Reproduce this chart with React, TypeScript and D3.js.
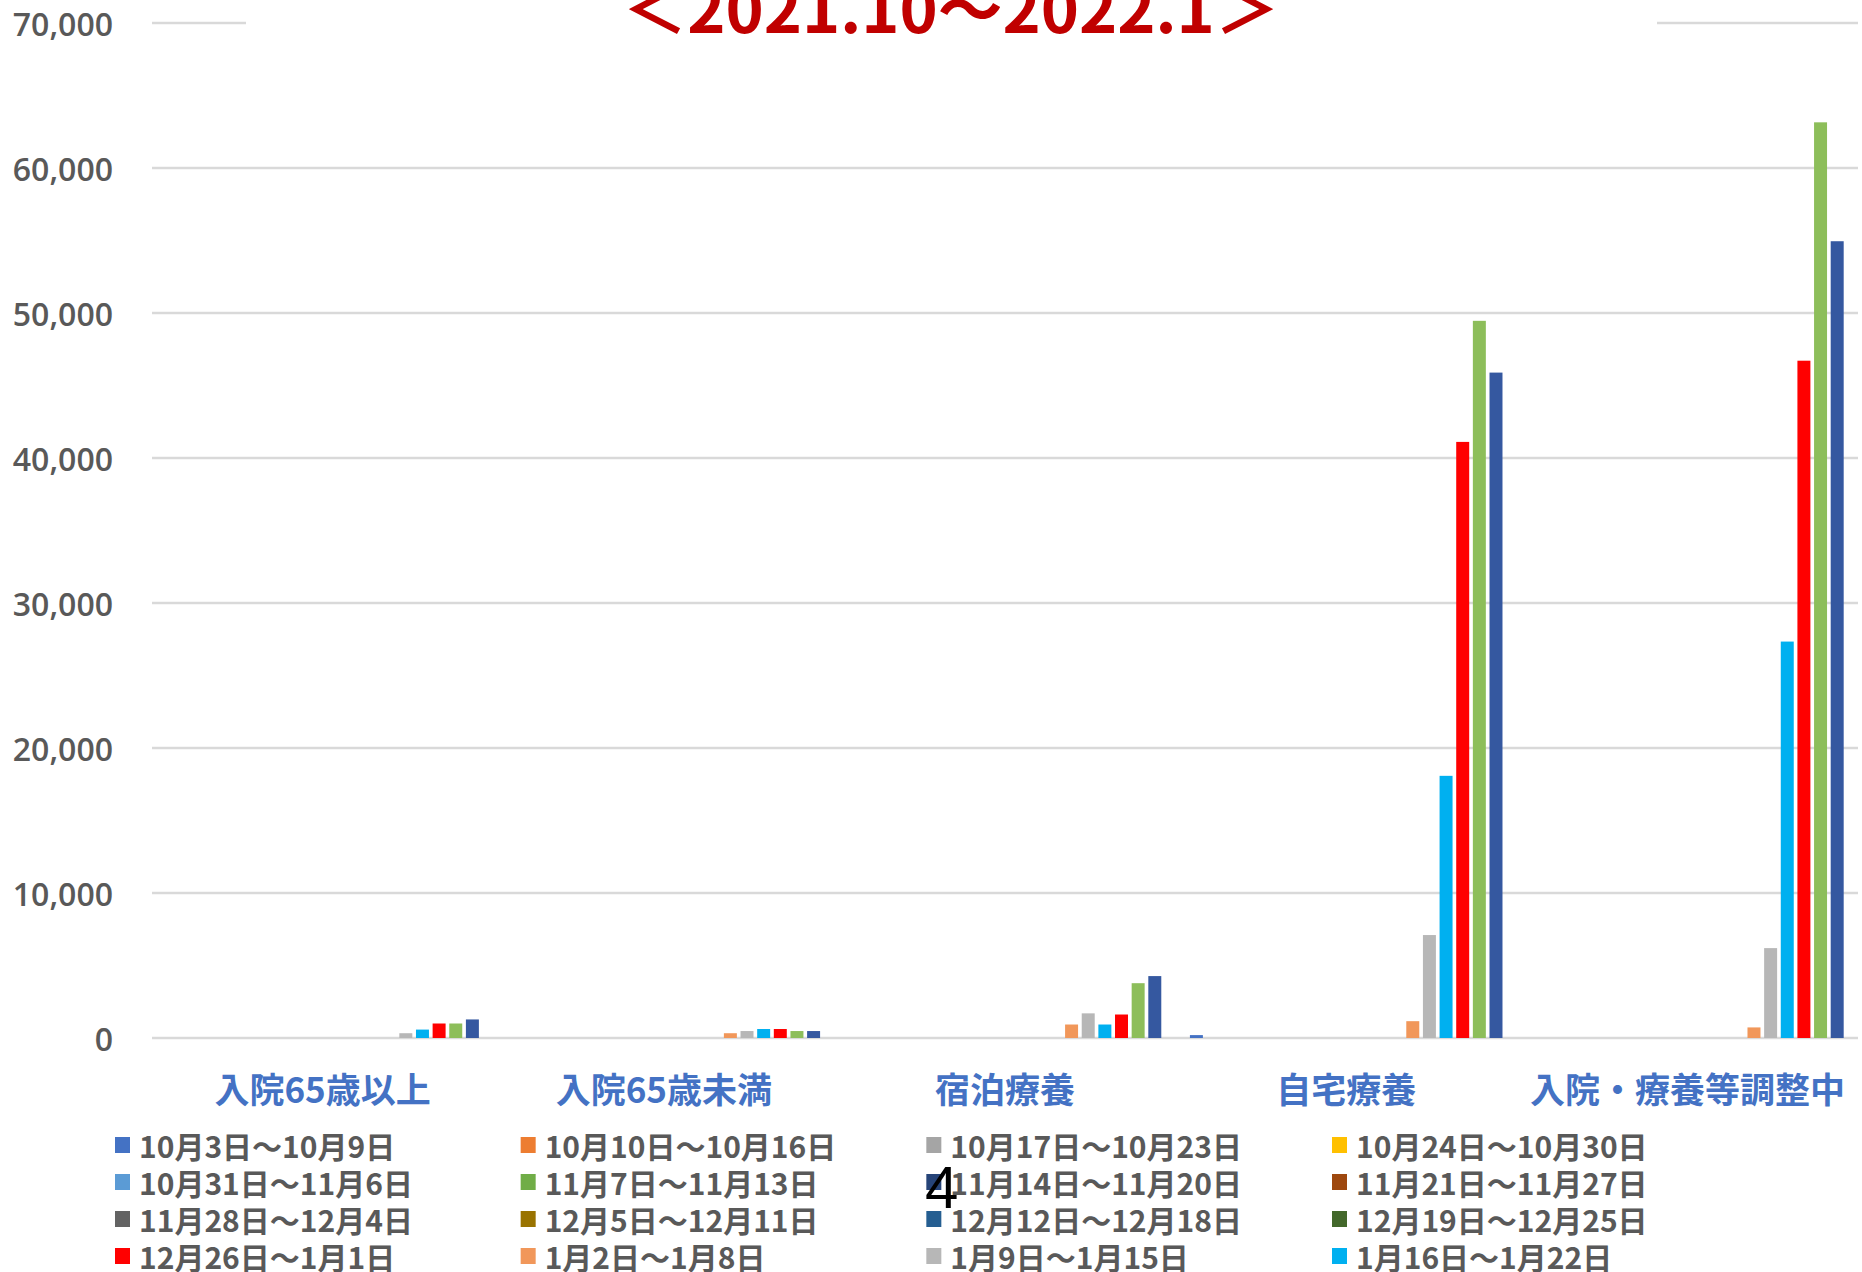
import React from "react";
import * as d3 from "d3";

// ---- Data ----
const categories = ["入院65歳以上", "入院65歳未満", "宿泊療養", "自宅療養", "入院・療養等調整中"];

const weeks = [
  "10月3日〜10月9日",
  "10月10日〜10月16日",
  "10月17日〜10月23日",
  "10月24日〜10月30日",
  "10月31日〜11月6日",
  "11月7日〜11月13日",
  "11月14日〜11月20日",
  "11月21日〜11月27日",
  "11月28日〜12月4日",
  "12月5日〜12月11日",
  "12月12日〜12月18日",
  "12月19日〜12月25日",
  "12月26日〜1月1日",
  "1月2日〜1月8日",
  "1月9日〜1月15日",
  "1月16日〜1月22日",
  "1月23日〜1月29日",
  "1月30日〜2月5日",
  "2月6日〜2月12日",
];

const weekColors = [
  "#4472C4", "#ED7D31", "#A5A5A5", "#FFC000",
  "#5B9BD5", "#70AD47", "#264478", "#9E480E",
  "#636363", "#997300", "#255E91", "#43682B",
  "#FF0000", "#F1975A", "#B7B7B7", "#00B0F0",
  "#FF0000", "#8DBE5A", "#3558A0",
];

// values per category, one entry per week (same order as weeks)
const hospOver65 = [0, 0, 0, 0, 0, 0, 0, 0, 0, 0, 0, 0, 0, 0, 330, 580, 1000, 1000, 1280];
const hospUnder65 = [0, 0, 0, 0, 0, 0, 0, 0, 0, 0, 0, 0, 0, 330, 480, 620, 620, 480, 480];
const hotelCare = [0, 0, 0, 0, 0, 0, 0, 0, 0, 0, 0, 0, 0, 930, 1700, 930, 1620, 3780, 4270];
const homeCare = [200, 0, 0, 0, 0, 0, 0, 0, 0, 0, 0, 0, 0, 1160, 7100, 18080, 41110, 49460, 45890];
const adjusting = [0, 0, 0, 0, 0, 0, 0, 0, 0, 0, 0, 0, 0, 730, 6200, 27340, 46710, 63150, 54950];

const yTicks = [0, 10000, 20000, 30000, 40000, 50000, 60000, 70000];
const titleText = "＜2021.10〜2022.1＞";
const pageNumber = "4";

const valuesByCategory = [hospOver65, hospUnder65, hotelCare, homeCare, adjusting];

export default function App() {
  const W = 1862;
  const H = 1272;
  const plotLeft = 152;
  const plotRight = 1858;

  const x0 = d3.scaleBand<string>().domain(categories).range([plotLeft, plotRight]).paddingInner(0).paddingOuter(0);
  const x1 = d3
    .scaleBand<string>()
    .domain(weeks)
    .range([0, x0.bandwidth()])
    .paddingInner(0.22)
    .paddingOuter(0.86);
  const y = d3.scaleLinear().domain([0, 70000]).range([1038, 23]);
  const fmt = d3.format(",");

  const legendCols = 4;
  const legendRows = 4;
  const colX = d3.scaleLinear().domain([0, legendCols - 1]).range([115, 1332]);
  const rowY = d3.scaleLinear().domain([0, legendRows - 1]).range([1145, 1256]);

  const jp = "'Noto Sans CJK JP', 'Noto Sans', sans-serif";

  return (
    <svg
      width={W}
      height={H}
      viewBox={`0 0 ${W} ${H}`}
      style={{ position: "absolute", left: 0, top: 0, background: "#fff" }}
    >
      <rect x={0} y={0} width={W} height={H} fill="#fff" />

      {/* gridlines */}
      {yTicks.map((t) => (
        <line
          key={"g" + t}
          x1={plotLeft}
          x2={plotRight}
          y1={y(t)}
          y2={y(t)}
          stroke="#D9D9D9"
          strokeWidth={2.5}
        />
      ))}

      {/* y tick labels */}
      {yTicks.map((t) => (
        <text
          key={"t" + t}
          x={113}
          y={y(t)}
          textAnchor="end"
          dominantBaseline="central"
          fontFamily="'Open Sans', 'Noto Sans', sans-serif"
          fontWeight={600}
          fontSize={32}
          fill="#595959"
        >
          {fmt(t)}
        </text>
      ))}

      {/* bars */}
      {categories.map((cat, ci) => (
        <g key={cat} transform={`translate(${x0(cat)},0)`}>
          {weeks.map((wk, wi) => {
            const v = valuesByCategory[ci][wi];
            if (!v) return null;
            return (
              <rect
                key={wk}
                x={x1(wk)}
                y={y(v)}
                width={x1.bandwidth()}
                height={y(0) - y(v)}
                fill={weekColors[wi]}
              />
            );
          })}
        </g>
      ))}

      {/* category labels */}
      {categories.map((cat) => (
        <text
          key={"c" + cat}
          x={(x0(cat) as number) + x0.bandwidth() / 2}
          y={1087}
          textAnchor="middle"
          dominantBaseline="central"
          fontFamily={jp}
          fontWeight={700}
          fontSize={35}
          fill="#4472C4"
        >
          {cat}
        </text>
      ))}

      {/* title with white backing */}
      <rect x={246} y={0} width={1411} height={42} fill="#fff" />
      <text
        x={951}
        y={33}
        textAnchor="middle"
        fontFamily={jp}
        fontWeight={700}
        fontSize={64}
        fill="#C00000"
        textLength={657}
        lengthAdjust="spacingAndGlyphs"
      >
        {titleText}
      </text>

      {/* legend */}
      {weeks.map((wk, i) => {
        const r = Math.floor(i / legendCols);
        const c = i % legendCols;
        if (r >= legendRows) return null;
        const cx = colX(c);
        const cy = rowY(r);
        return (
          <g key={"l" + wk}>
            <rect x={cx} y={cy - 8} width={15} height={16} fill={weekColors[i]} />
            <text
              x={cx + 24}
              y={cy}
              dominantBaseline="central"
              fontFamily={jp}
              fontWeight={700}
              fontSize={30}
              fill="#595959"
            >
              {wk}
            </text>
          </g>
        );
      })}

      {/* page number */}
      <text x={925} y={1208} fontFamily="'Liberation Sans', Arial, sans-serif" fontSize={60} fill="#000">
        {pageNumber}
      </text>
    </svg>
  );
}
